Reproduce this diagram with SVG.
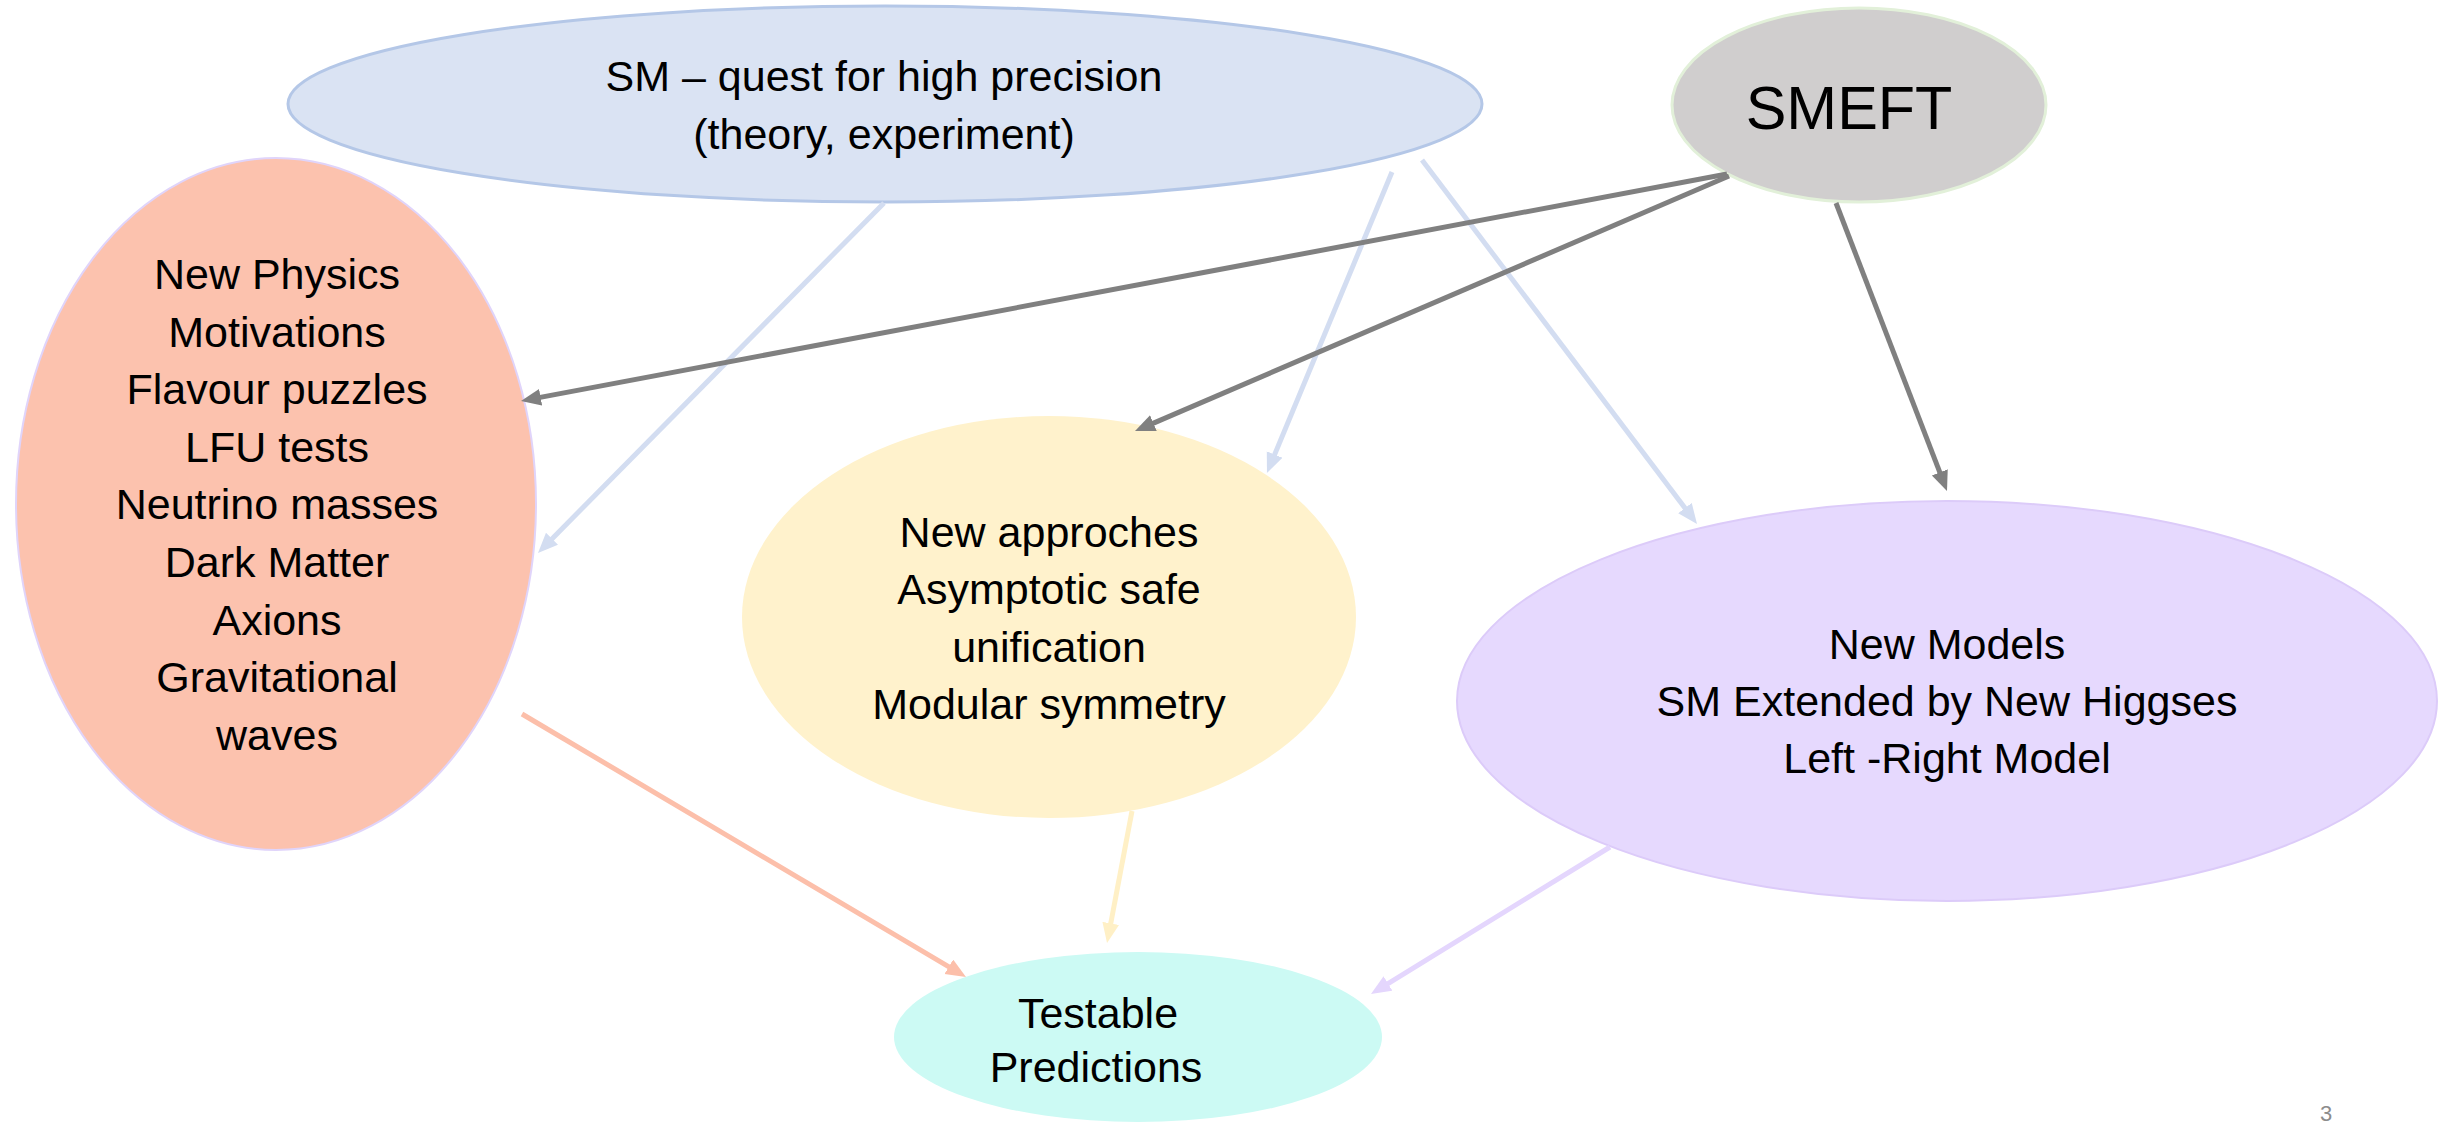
<svg xmlns="http://www.w3.org/2000/svg" width="2453" height="1123" viewBox="0 0 2453 1123">
<style>
.t{font-family:"Liberation Sans",Arial,sans-serif;font-size:43px;fill:#000;text-anchor:middle}
.big{font-size:61px}
.c{fill:none;stroke-width:5}
</style>
<defs>
<marker id="mGray" markerUnits="userSpaceOnUse" markerWidth="22" markerHeight="18" refX="10" refY="8.5" orient="auto"><path d="M0,0 L20,8.5 L0,17 z" fill="#808080"/></marker>
<marker id="mBlue" markerUnits="userSpaceOnUse" markerWidth="22" markerHeight="18" refX="10" refY="8.5" orient="auto"><path d="M0,0 L20,8.5 L0,17 z" fill="#d3ddf1"/></marker>
<marker id="mSalmon" markerUnits="userSpaceOnUse" markerWidth="22" markerHeight="18" refX="10" refY="8.5" orient="auto"><path d="M0,0 L20,8.5 L0,17 z" fill="#fcbfaa"/></marker>
<marker id="mYellow" markerUnits="userSpaceOnUse" markerWidth="22" markerHeight="18" refX="10" refY="8.5" orient="auto"><path d="M0,0 L20,8.5 L0,17 z" fill="#fff0c6"/></marker>
<marker id="mPurple" markerUnits="userSpaceOnUse" markerWidth="22" markerHeight="18" refX="10" refY="8.5" orient="auto"><path d="M0,0 L20,8.5 L0,17 z" fill="#e4d6fd"/></marker>
</defs>
<rect width="2453" height="1123" fill="#fff"/>

<g id="node-sm">
<ellipse cx="885" cy="104" rx="597" ry="98" fill="#dae3f3" stroke="#b4c7e7" stroke-width="3"/>
<text class="t" x="884" y="91">SM – quest for high precision</text>
<text class="t" x="884" y="149">(theory, experiment)</text>
</g>

<g id="node-smeft">
<ellipse cx="1859" cy="105" rx="187" ry="97" fill="#d0cece" stroke="#e2f0d9" stroke-width="3"/>
<text class="t big" x="1849" y="129">SMEFT</text>
</g>

<g id="node-newphysics">
<ellipse cx="276" cy="504" rx="260" ry="346" fill="#fcc2ae" stroke="#e0d4fa" stroke-width="2"/>
<text class="t" x="277" y="289">New Physics</text>
<text class="t" x="277" y="347">Motivations</text>
<text class="t" x="277" y="404">Flavour puzzles</text>
<text class="t" x="277" y="462">LFU tests</text>
<text class="t" x="277" y="519">Neutrino masses</text>
<text class="t" x="277" y="577">Dark Matter</text>
<text class="t" x="277" y="635">Axions</text>
<text class="t" x="277" y="692">Gravitational</text>
<text class="t" x="277" y="750">waves</text>
</g>

<g id="node-approaches">
<ellipse cx="1049" cy="617" rx="307" ry="201" fill="#fff2cc"/>
<text class="t" x="1049" y="547">New approches</text>
<text class="t" x="1049" y="604">Asymptotic safe</text>
<text class="t" x="1049" y="662">unification</text>
<text class="t" x="1049" y="719">Modular symmetry</text>
</g>

<g id="node-models">
<ellipse cx="1947" cy="701" rx="490" ry="200" fill="#e6d9fe" stroke="#dccbf9" stroke-width="2"/>
<text class="t" x="1947" y="659">New Models</text>
<text class="t" x="1947" y="716">SM Extended by New Higgses</text>
<text class="t" x="1947" y="773">Left -Right Model</text>
</g>

<g id="node-testable">
<ellipse cx="1138" cy="1037" rx="244" ry="85" fill="#ccfaf4"/>
<text class="t" x="1098" y="1028">Testable</text>
<text class="t" x="1096" y="1082">Predictions</text>
</g>

<g id="connectors">
<line class="c" x1="884" y1="203" x2="545" y2="545.9" stroke="#d3ddf1" stroke-width="4" marker-end="url(#mBlue)"/>
<line class="c" x1="1392" y1="172" x2="1270.8" y2="463.8" stroke="#d3ddf1" stroke-width="4" marker-end="url(#mBlue)"/>
<line class="c" x1="1422" y1="160" x2="1691" y2="516" stroke="#d3ddf1" stroke-width="4" marker-end="url(#mBlue)"/>
<line class="c" x1="1727" y1="174" x2="530.8" y2="399.1" stroke="#808080" marker-end="url(#mGray)"/>
<line class="c" x1="1729" y1="176" x2="1144.2" y2="427.1" stroke="#808080" marker-end="url(#mGray)"/>
<line class="c" x1="1836" y1="203" x2="1943.4" y2="481.7" stroke="#808080" marker-end="url(#mGray)"/>
<line class="c" x1="522" y1="714" x2="957.4" y2="971.9" stroke="#fcbfaa" marker-end="url(#mSalmon)"/>
<line class="c" x1="1132" y1="811" x2="1108.9" y2="933.2" stroke="#fff0c6" marker-end="url(#mYellow)"/>
<line class="c" x1="1610" y1="847" x2="1379.5" y2="988.8" stroke="#e4d6fd" stroke-width="4" marker-end="url(#mPurple)"/>
</g>

<text x="2326" y="1121" style="font-family:'Liberation Sans',Arial,sans-serif;font-size:22px;fill:#8c8c8c;text-anchor:middle">3</text>
</svg>
